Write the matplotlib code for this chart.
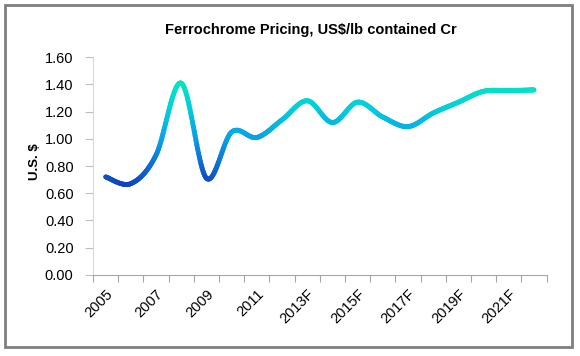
import numpy as np
import matplotlib
matplotlib.use("Agg")
import matplotlib.pyplot as plt
from matplotlib.collections import LineCollection
from matplotlib.colors import LinearSegmentedColormap
from matplotlib.patches import Rectangle

years = ["2005", "2006", "2007", "2008", "2009", "2010", "2011", "2012",
         "2013F", "2014F", "2015F", "2016F", "2017F", "2018F", "2019F",
         "2020F", "2021F", "2022F"]
prices = [0.72, 0.67, 0.88, 1.41, 0.71, 1.05, 1.01, 1.14, 1.28, 1.12,
          1.27, 1.16, 1.09, 1.19, 1.27, 1.35, 1.355, 1.36]
yticks = [0.0, 0.2, 0.4, 0.6, 0.8, 1.0, 1.2, 1.4, 1.6]

plt.rcParams['font.family'] = ['Liberation Sans', 'DejaVu Sans']

fig = plt.figure(figsize=(5.8, 3.56), dpi=100)
ax = fig.add_axes([93/580, 1-274.7/356, (546.7-93)/580, (274.7-57.3)/356])

# Smooth curve (Excel-style Catmull-Rom) through the data points
x = np.arange(len(prices), dtype=float)
y = np.array(prices, dtype=float)
px = np.concatenate([[x[0]], x, [x[-1]]])
py = np.concatenate([[y[0]], y, [y[-1]]])
xs, ys = [], []
t = np.linspace(0, 1, 30)
for i in range(1, len(px) - 2):
    p0, p1, p2, p3 = (np.array([px[j], py[j]]) for j in (i-1, i, i+1, i+2))
    c1 = p1 + (p2 - p0) / 6
    c2 = p2 - (p3 - p1) / 6
    b = ((1-t)**3)[:, None]*p1 + (3*(1-t)**2*t)[:, None]*c1 + (3*(1-t)*t**2)[:, None]*c2 + (t**3)[:, None]*p2
    xs.append(b[:, 0]); ys.append(b[:, 1])
xs = np.concatenate(xs); ys = np.concatenate(ys)

pts = np.column_stack([xs, ys]).reshape(-1, 1, 2)
segs = np.concatenate([pts[:-1], pts[1:]], axis=1)
cmap = LinearSegmentedColormap.from_list(
    "fc", [(0.0, "#1040c0"), (0.45, "#0a9ee6"), (0.75, "#00cfdc"), (1.0, "#00e8c0")])
norm = plt.Normalize(0.65, 1.42)
lc = LineCollection(segs, cmap=cmap, norm=norm, linewidth=3.5, capstyle='round', joinstyle='round')
lc.set_array((ys[:-1] + ys[1:]) / 2)
ax.add_collection(lc)

ax.set_xlim(-0.5, len(years) - 0.5)
ax.set_ylim(0, 1.6)
ax.set_yticks(yticks)
ax.set_yticklabels([f"{v:.2f}" for v in yticks], fontsize=10.5)

ax.set_xticks(np.arange(-0.5, len(years), 1.0))
ax.set_xticklabels([])
ax.set_xticks(np.arange(0, len(years), 2), minor=True)
ax.set_xticklabels(years[::2], minor=True, rotation=45, ha='right',
                   rotation_mode='anchor', fontsize=10.5)
ax.tick_params(axis='x', which='minor', length=0, pad=9)
ax.tick_params(axis='x', which='major', length=5, color='#a6a6a6', width=0.8)
ax.tick_params(axis='y', length=6, color='#bfbfbf', width=0.8, pad=8)

for s in ['top', 'right']:
    ax.spines[s].set_visible(False)
ax.spines['left'].set_color('#d9d9d9')
ax.spines['bottom'].set_color('#a6a6a6')
ax.spines['left'].set_linewidth(0.8)
ax.spines['bottom'].set_linewidth(0.8)

fig.text(311/580, 1-30/356, "Ferrochrome Pricing, US$/lb contained Cr",
         ha='center', va='center', fontsize=10.5, fontweight='bold')
fig.text(35/580, 1-162/356, "U.S. $", ha='center', va='center', rotation=90,
         fontsize=9.5, fontweight='bold')

fig.patches.append(Rectangle((5/580, 9/356), (572-5)/580, (351-9)/356,
                             transform=fig.transFigure, fill=False,
                             edgecolor='#7f7f7f', linewidth=2))

fig.savefig("out.png", dpi=100)
